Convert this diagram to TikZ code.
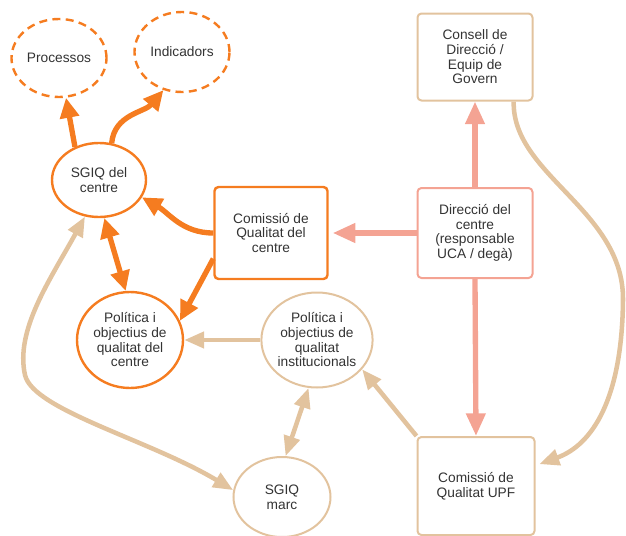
\documentclass[tikz,border=0pt]{standalone}
\usepackage{fontspec}
\setmainfont{Liberation Sans}
\usetikzlibrary{shapes.geometric,arrows.meta}
\definecolor{taronja}{RGB}{245,124,32}
\definecolor{beix}{RGB}{226,195,158}
\definecolor{rosa}{RGB}{244,163,147}
\tikzset{
	txt/.style={align=center, inner sep=0pt, font=\fontsize{10.3}{11}\selectfont, text=black!80},
	ovaldash/.style={txt, ellipse, draw=taronja, line width=1.8pt, dash pattern=on 6pt off 4pt},
	ovaltaronja/.style={txt, ellipse, draw=taronja, line width=1.8pt},
	ovalbeix/.style={txt, ellipse, draw=beix, line width=1.5pt},
	caixa/.style={txt, rectangle, rounded corners=3pt, line width=1.5pt},
	fltaronja/.style={draw=taronja, line width=4pt, -{Triangle[length=15pt,width=14pt]}},
	flrosa/.style={draw=rosa, line width=4pt, -{Triangle[length=17pt,width=14pt]}},
	flbeix/.style={draw=beix, line width=3.4pt, -{Triangle[length=15pt,width=12pt]}},
}
\begin{document}
\begin{tikzpicture}[x=0.75pt, y=-0.75pt]
	\useasboundingbox (0,0) rectangle (626,536);
	% nodes
	\node[ovaldash, minimum width=95*0.75pt, minimum height=78*0.75pt] (proc) at (59,58) {Processos};
	\node[ovaldash, minimum width=95*0.75pt, minimum height=80*0.75pt] (ind) at (182,52) {Indicadors};
	\node[ovaltaronja, minimum width=94*0.75pt, minimum height=74*0.75pt] (sgiq) at (99,180) {SGIQ del\\centre};
	\node[caixa, draw=taronja, line width=1.8pt, minimum width=113*0.75pt, minimum height=92*0.75pt] (com) at (271,233) {Comissió de\\Qualitat del\\centre};
	\node[caixa, draw=rosa, minimum width=115*0.75pt, minimum height=90*0.75pt] (dir) at (475,233) {Direcció del\\centre\\(responsable\\UCA / degà)};
	\node[caixa, draw=beix, minimum width=115*0.75pt, minimum height=87*0.75pt] (cons) at (475,57) {Consell de\\Direcció /\\Equip de\\Govern};
	\node[caixa, draw=beix, minimum width=117*0.75pt, minimum height=98*0.75pt] (upf) at (476,486) {Comissió de\\Qualitat UPF};
	\node[ovaltaronja, minimum width=106*0.75pt, minimum height=96*0.75pt] (pc) at (130,340) {Política i\\objectius de\\qualitat del\\centre};
	\node[ovalbeix, minimum width=110*0.75pt, minimum height=95*0.75pt] (pi) at (317,340) {Política i\\objectius de\\qualitat\\institucionals};
	\node[ovalbeix, minimum width=97*0.75pt, minimum height=80*0.75pt] (marc) at (282,497) {SGIQ\\marc};
	% connectors
	\draw[fltaronja] (sgiq.126) -- (proc.-80);
	\draw[fltaronja] (sgiq.71) to[out=85, in=-130] (ind.-116);
	\draw[fltaronja] (com.west) to[out=180, in=-30] (sgiq.-22);
	\draw[fltaronja] (com.-156) -- (pc.21);
	\draw[fltaronja, {Triangle[length=15pt,width=14pt]}-{Triangle[length=15pt,width=14pt]}] (sgiq.-82) -- (pc.95);
	\draw[flrosa, shorten >=3pt] (dir.west) -- (com.east);
	\draw[flrosa] (dir.north) -- (cons.south);
	\draw[flrosa] (dir.south) -- (upf.north);
	\draw[flbeix, shorten >=3pt] (cons.-49) .. controls (512,175) and (624,210) .. (623,300) .. controls (622,400) and (592,445) .. (upf.19);
	\draw[flbeix] (upf.north west) -- (pi.-33);
	\draw[flbeix] (pi.west) -- (pc.east);
	\draw[flbeix, {Triangle[length=15pt,width=12pt]}-{Triangle[length=15pt,width=12pt]}] (marc.85) -- (pi.-100);
	\draw[flbeix, {Triangle[length=15pt,width=12pt]}-{Triangle[length=15pt,width=12pt]}] (sgiq.-111) .. controls (50,280) and (15,330) .. (25,375) .. controls (33,410) and (150,440) .. (marc.172);
\end{tikzpicture}
\end{document}
